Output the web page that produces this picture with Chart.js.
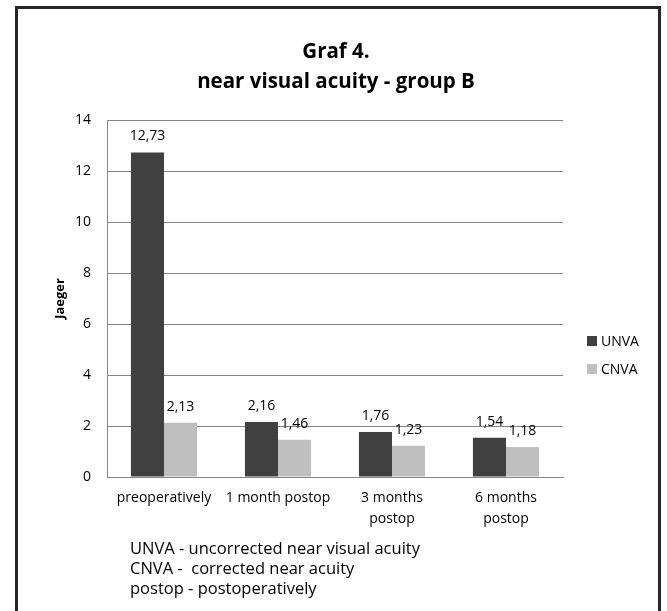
<!DOCTYPE html>
<html>
<head>
<meta charset="utf-8">
<script src="https://cdn.jsdelivr.net/npm/chart.js@4/dist/chart.umd.min.js"></script>
<style>
  html, body { margin: 0; padding: 0; background: #fff; }
  #wrap { width: 667px; height: 611px; position: relative; }
</style>
</head>
<body>
<div id="wrap"><canvas id="c" width="667" height="611"></canvas></div>
<script>
const categories = ['preoperatively', '1 month postop', ['3 months', 'postop'], ['6 months', 'postop']];
const unvaValues = [12.73, 2.16, 1.76, 1.54];
const cnvaValues = [2.13, 1.46, 1.23, 1.18];
const seriesNames = ['UNVA', 'CNVA'];
const titleLines = ['Graf 4.', 'near visual acuity - group B'];
const yAxisTitle = 'Jaeger';
const yMin = 0, yMax = 14, yStep = 2;
const footnoteLines = [
  'UNVA - uncorrected near visual acuity',
  'CNVA -  corrected near acuity',
  'postop - postoperatively'
];

const FONT = '"Open Sans", Lato, sans-serif';

const frameAndNotes = {
  id: 'frameAndNotes',
  afterDraw(chart) {
    const ctx = chart.ctx;
    ctx.save();
    // outer frame
    ctx.strokeStyle = '#262626';
    ctx.lineWidth = 3;
    ctx.strokeRect(16.5, 7.5, 643, 700);
    // title
    ctx.fillStyle = '#000';
    ctx.textAlign = 'center';
    ctx.textBaseline = 'middle';
    ctx.font = 'bold 20.5px ' + FONT;
    titleLines.forEach((t, i) => ctx.fillText(t, 336, 52 + i * 30));
    // legend
    const area = chart.chartArea;
    ctx.font = '14px ' + FONT;
    ctx.textAlign = 'left';
    chart.data.datasets.forEach((ds, i) => {
      const y = 341 + i * 28;
      ctx.fillStyle = ds.backgroundColor;
      ctx.fillRect(area.right + 24, y - 5, 10, 10);
      ctx.fillStyle = '#000';
      ctx.fillText(ds.label, area.right + 38, y + 1);
    });
    // footnotes
    ctx.font = '16.5px ' + FONT;
    footnoteLines.forEach((t, i) => {
      ctx.fillText(t, 130, 549 + i * 20);
    });
    ctx.restore();
  },
  afterDatasetsDraw(chart) {
    const ctx = chart.ctx;
    ctx.save();
    ctx.font = '14px ' + FONT;
    ctx.fillStyle = '#000';
    ctx.textAlign = 'center';
    ctx.textBaseline = 'middle';
    chart.data.datasets.forEach((ds, di) => {
      const meta = chart.getDatasetMeta(di);
      meta.data.forEach((el, i) => {
        const txt = ds.data[i].toFixed(2).replace('.', ',');
        ctx.fillText(txt, el.x, el.y - 16);
      });
    });
    ctx.restore();
  }
};

new Chart(document.getElementById('c'), {
  type: 'bar',
  data: {
    labels: categories,
    datasets: [
      { label: seriesNames[0], data: unvaValues, backgroundColor: '#404040' },
      { label: seriesNames[1], data: cnvaValues, backgroundColor: '#bfbfbf' }
    ]
  },
  options: {
    responsive: false,
    animation: false,
    devicePixelRatio: 1,
    layout: { padding: { left: 48, right: 104, top: 120, bottom: 74 } },
    datasets: { bar: { categoryPercentage: 0.58, barPercentage: 1.0 } },
    plugins: {
      legend: { display: false },
      tooltip: { enabled: false },
      title: { display: false }
    },
    scales: {
      x: {
        grid: { display: false, drawTicks: false },
        border: { display: true, color: '#868686', width: 1 },
        ticks: {
          color: '#000',
          padding: 11,
          maxRotation: 0,
          autoSkip: false,
          font: { family: FONT, size: 14, lineHeight: 1.5 }
        },
        afterFit(scale) { scale.height = 60; }
      },
      y: {
        min: yMin, max: yMax,
        grid: { color: '#868686', drawTicks: false },
        border: { display: true, color: '#868686', width: 1 },
        ticks: {
          stepSize: yStep,
          color: '#000',
          padding: 16,
          font: { family: FONT, size: 14 }
        },
        title: {
          display: true,
          text: yAxisTitle,
          color: '#000',
          font: { family: FONT, size: 13, weight: 'bold', lineHeight: 1.2 },
          padding: { top: 4, bottom: 0 }
        },
        afterFit(scale) { scale.width = 59; }
      }
    }
  },
  plugins: [frameAndNotes]
});
</script>
</body>
</html>
